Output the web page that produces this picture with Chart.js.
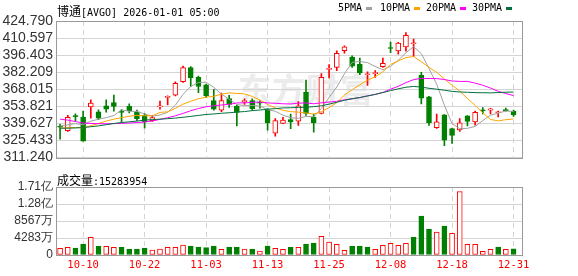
<!DOCTYPE html>
<html>
<head>
<meta charset="utf-8">
<script src="https://cdn.jsdelivr.net/npm/chart.js@4.4.1/dist/chart.umd.min.js"></script>
<style>
  html, body { margin: 0; padding: 0; background: #fff; }
  #wrap { position: relative; width: 578px; height: 276px; overflow: hidden; }
  canvas { position: absolute; left: 0; }
  #kline { top: 0; }
  #vol { top: 160px; }
  .txt { position: absolute; white-space: nowrap; font: 10px 'DejaVu Sans Mono', monospace; line-height: 12px; color: #000; }
  .cjk { font: 12px 'Noto Sans CJK SC'; }
  .sq { position: absolute; width: 6px; height: 3px; }
  #watermark { position: absolute; left: 238px; top: 68px; font: bold 33px 'Noto Sans CJK SC'; line-height: 40px; color: #ebebeb; letter-spacing: 1px; }
</style>
</head>
<body>
<div id="wrap">
  <div id="watermark">东方财富</div>
  <canvas id="kline" width="578" height="170"></canvas>
  <canvas id="vol" width="578" height="116"></canvas>
  <div class="txt" style="left:57px;top:2px;"><span class="cjk">博通</span>[AVGO] 2026-01-01 05:00</div>
  <div class="txt" style="left:338px;top:2px;">5PMA</div>
  <div class="sq" style="left:366px;top:7px;background:#a0a0a0;"></div>
  <div class="txt" style="left:380px;top:2px;">10PMA</div>
  <div class="sq" style="left:414px;top:7px;background:#ffa500;"></div>
  <div class="txt" style="left:426px;top:2px;">20PMA</div>
  <div class="sq" style="left:460px;top:7px;background:#ff00ff;"></div>
  <div class="txt" style="left:472px;top:2px;">30PMA</div>
  <div class="sq" style="left:506px;top:7px;background:#00703c;"></div>
  <div class="txt" style="left:57px;top:171px;"><span class="cjk">成交量</span>:15283954</div>
</div>
<script>
// trading days shown, MM-DD
const dates = [
  '10-07', '10-08', '10-09', '10-10', '10-13', '10-14', '10-15', '10-16', '10-17', '10-20',
  '10-21', '10-22', '10-23', '10-24', '10-27', '10-28', '10-29', '10-30', '10-31', '11-03',
  '11-04', '11-05', '11-06', '11-07', '11-10', '11-11', '11-12', '11-13', '11-14', '11-17',
  '11-18', '11-19', '11-20', '11-21', '11-24', '11-25', '11-26', '11-28', '12-01', '12-02',
  '12-03', '12-04', '12-05', '12-08', '12-09', '12-10', '12-11', '12-12', '12-15', '12-16',
  '12-17', '12-18', '12-19', '12-22', '12-23', '12-24', '12-26', '12-29', '12-30', '12-31'
];
const dateTicks = [3, 11, 19, 27, 35, 43, 51, 59];

const opens = [
  337.3, 333.7, 346.0, 344.9, 353.4, 349.3, 354.2, 357.0, 349.3, 353.8,
  349.3, 346.3, 342.0, 353.4, 361.3, 363.05, 374.3, 386.15, 377.9, 371.7,
  358.55, 350.7, 360.4, 354.06, 357.8, 358.55, 357.2, 350.9, 331.5, 339.6,
  342.8, 341.6, 365.65, 344.75, 347.9, 384.6, 386.15, 400.1, 394.8, 388.75,
  380.1, 381.0, 386.9, 402.7, 399.95, 403.3, 405.9, 379.6, 361.7, 336.2,
  346.7, 335.45, 334.35, 345.9, 340.95, 350.4, 350.7, 348.5, 350.7, 349.9
];
const highs = [
  338.8, 346.3, 347.7, 349.9, 359.3, 350.9, 359.3, 363.3, 351.1, 355.95,
  350.7, 347.9, 346.3, 358.2, 362.5, 374.3, 387.3, 386.9, 379.1, 372.35,
  368.0, 364.9, 362.9, 355.2, 360.1, 360.1, 358.55, 352.0, 343.6, 344.8,
  347.5, 357.8, 375.7, 347.5, 381.0, 388.5, 399.95, 404.05, 395.85, 394.0,
  382.6, 383.55, 394.0, 407.2, 407.05, 415.1, 409.8, 382.2, 362.1, 347.5,
  347.1, 335.7, 343.6, 346.2, 349.9, 352.8, 352.25, 349.9, 352.5, 350.7
];
const lows = [
  326.5, 332.9, 341.5, 324.9, 344.1, 342.8, 349.1, 349.9, 340.6, 348.3,
  342.0, 335.7, 341.4, 351.5, 355.0, 362.5, 373.8, 370.4, 365.3, 361.1,
  350.7, 349.5, 353.0, 337.6, 355.4, 350.7, 352.3, 334.1, 329.0, 339.4,
  335.3, 338.05, 346.3, 332.3, 347.5, 377.5, 383.55, 397.98, 386.15, 380.2,
  371.2, 377.9, 386.15, 398.4, 397.2, 399.8, 395.4, 355.95, 338.05, 335.45,
  321.1, 323.06, 332.9, 337.5, 338.3, 347.5, 347.5, 345.1, 349.9, 345.4
];
const closes = [
  336.6, 344.75, 345.3, 325.0, 356.6, 344.1, 351.5, 353.8, 348.9, 350.3,
  343.6, 340.8, 344.6, 353.8, 361.7, 373.0, 386.15, 377.5, 370.4, 362.5,
  351.5, 358.55, 355.4, 348.85, 358.2, 351.85, 356.4, 340.2, 342.0, 342.4,
  340.8, 354.2, 347.9, 340.2, 378.0, 385.4, 397.97, 403.3, 387.3, 381.7,
  380.9, 381.7, 389.5, 401.9, 406.4, 412.96, 406.4, 360.7, 340.2, 340.95,
  325.7, 329.6, 340.2, 341.4, 348.85, 350.1, 351.85, 348.85, 350.3, 346.7
];

const ma5 = [
  337.5, 338.5, 339.5, 338.5, 341.57, 343.15, 344.5, 346.2, 350.98, 349.72,
  349.62, 347.48, 345.64, 346.62, 348.9, 354.78, 363.85, 370.43, 373.75, 373.91,
  369.61, 364.09, 359.67, 355.36, 354.5, 354.57, 354.14, 351.1, 349.73, 346.57,
  344.36, 343.92, 345.46, 345.1, 352.22, 361.14, 369.89, 380.97, 390.39, 391.13,
  390.23, 386.98, 384.22, 387.14, 392.08, 398.49, 403.43, 397.67, 385.33, 372.24,
  354.79, 339.43, 335.33, 335.57, 337.15, 342.03, 346.48, 348.21, 349.99, 349.56
];
const ma10 = [
  335.7, 336.1, 336.2, 336.1, 337.7, 339.6, 341.6, 343.2, 344.4, 345.65,
  346.39, 345.99, 345.92, 348.8, 349.31, 352.2, 355.67, 358.04, 360.19, 361.41,
  362.2, 363.97, 365.05, 364.56, 364.2, 362.09, 359.12, 355.39, 352.55, 350.54,
  349.47, 349.03, 348.28, 347.42, 349.4, 352.75, 356.91, 363.22, 367.75, 371.68,
  375.69, 378.44, 382.6, 388.77, 391.61, 394.36, 395.21, 390.95, 386.24, 382.16,
  376.64, 371.43, 366.5, 360.45, 354.7, 348.41, 342.96, 341.77, 342.78, 343.36
];
const ma20 = [
  343.2, 342.4, 341.2, 340.0, 339.6, 339.4, 339.4, 339.5, 339.7, 340.0,
  340.4, 340.8, 341.7, 343.0, 344.4, 346.0, 348.0, 350.2, 352.0, 353.53,
  354.29, 354.98, 355.49, 356.68, 356.76, 357.15, 357.39, 356.71, 356.37, 355.97,
  355.83, 356.5, 356.67, 355.99, 356.8, 357.42, 358.01, 359.3, 360.15, 361.11,
  362.58, 363.73, 365.44, 368.09, 370.5, 373.56, 376.06, 377.08, 376.99, 376.92,
  376.16, 374.93, 374.55, 374.61, 373.15, 371.39, 369.08, 366.36, 364.51, 362.76
];
const ma30 = [
  335.68, 335.68, 335.9, 336.2, 336.9, 337.6, 338.6, 339.6, 340.4, 341.0,
  341.6, 342.4, 342.8, 343.2, 343.6, 344.1, 344.75, 345.5, 346.3, 347.1,
  347.5, 348.1, 348.5, 349.1, 349.5, 350.3, 350.8, 351.5, 351.9, 352.53,
  352.68, 353.0, 353.08, 353.59, 354.3, 355.68, 357.23, 358.88, 360.16, 361.21,
  362.45, 363.81, 365.31, 366.91, 368.4, 369.73, 370.41, 369.85, 368.84, 368.12,
  367.26, 366.3, 365.79, 365.54, 365.23, 365.17, 365.02, 365.31, 365.59, 365.73
];

const volumes = [
  16700000, 19200000, 17600000, 27600000, 44300000, 22600000, 21700000, 19200000, 19200000, 15100000,
  15100000, 17600000, 12500000, 15100000, 19200000, 19200000, 25100000, 22600000, 20100000, 18400000,
  22600000, 14200000, 20100000, 20100000, 15100000, 15100000, 10000000, 22600000, 16700000, 14500000,
  19200000, 19200000, 27600000, 30100000, 46800000, 32600000, 26800000, 11700000, 22600000, 22600000,
  20100000, 14200000, 24300000, 29300000, 24300000, 29300000, 45200000, 97900000, 65200000, 57700000,
  72800000, 54400000, 159800000, 26800000, 26800000, 9200000, 14200000, 20100000, 14200000, 15283954
];
// 1 = red (up) volume bar, 0 = green
const volUp = [
  1, 1, 0, 0, 1, 0, 1, 1, 0, 0,
  0, 0, 1, 1, 1, 1, 1, 0, 0, 0,
  0, 1, 0, 0, 1, 0, 1, 0, 1, 1,
  0, 1, 0, 0, 1, 1, 1, 1, 0, 0,
  0, 1, 1, 1, 1, 1, 0, 0, 0, 1,
  0, 1, 1, 1, 1, 1, 1, 0, 1, 0
];

const priceTicks = [311.24, 325.433, 339.627, 353.821, 368.015, 382.209, 396.403, 410.597, 424.79];
const priceTickLabels = ['311.240', '325.433', '339.627', '353.821', '368.015', '382.209', '396.403', '410.597', '424.790'];
const volTicks = [0, 42833885, 85667770, 128501655, 171335540];
const volTickLabels = ['0', '4283万', '8567万', '1.28亿', '1.71亿'];

const RED = '#ff0000';
const GREEN = '#008000';
const GRID = '#d4d4d4';

const framePlugin = {
  id: 'frame',
  afterDraw(chart) {
    const { ctx, chartArea: a } = chart;
    ctx.save();
    ctx.strokeStyle = '#999';
    ctx.lineWidth = 1;
    ctx.strokeRect(Math.round(a.left) - 0.5, Math.round(a.top) + 0.5,
      Math.round(a.right - a.left) + 1, Math.round(a.bottom - a.top));
    ctx.restore();
  }
};

function xScale(showLabels) {
  return {
    type: 'linear',
    min: -0.4,
    max: 60.1,
    offset: false,
    afterBuildTicks: (s) => { s.ticks = dateTicks.map((v) => ({ value: v })); },
    afterFit: (s) => { s.height = showLabels ? 21 : 0; },
    grid: { color: GRID, drawTicks: false, offset: false },
    border: { display: false, dash: [5, 4] },
    ticks: {
      display: showLabels,
      autoSkip: false,
      maxRotation: 0,
      padding: 4,
      color: RED,
      font: { family: 'DejaVu Sans Mono', size: 10.5 },
      callback: (v) => dates[v]
    }
  };
}

function yScale(min, max, ticks, labels, fontSize) {
  return {
    min,
    max,
    afterBuildTicks: (s) => { s.ticks = ticks.map((v) => ({ value: v })); },
    afterFit: (s) => { s.width = 57; },
    grid: { color: GRID, drawTicks: false },
    border: { display: false },
    ticks: {
      autoSkip: false,
      padding: 4,
      color: '#333',
      font: { family: 'Liberation Sans', size: fontSize },
      callback: (v, i) => labels[i]
    }
  };
}

const isUp = (i) => closes[i] >= opens[i];
const idx = dates.map((d, i) => i);

function maLine(values, color) {
  return {
    type: 'line',
    data: values.map((v, i) => ({ x: i, y: v })),
    borderColor: color,
    borderWidth: 1,
    pointRadius: 0,
    tension: 0,
    order: 1
  };
}

new Chart(document.getElementById('kline'), {
  type: 'bar',
  data: {
    datasets: [
      {
        // wicks
        data: idx.map((i) => ({ x: i, y: [lows[i], highs[i]] })),
        backgroundColor: idx.map((i) => (isUp(i) ? RED : GREEN)),
        borderWidth: 0,
        barThickness: 1,
        grouped: false,
        order: 3
      },
      {
        // bodies
        data: idx.map((i) => ({ x: i, y: [Math.min(opens[i], closes[i]), Math.max(opens[i], closes[i])] })),
        backgroundColor: idx.map((i) => (isUp(i) ? '#fff' : GREEN)),
        borderColor: idx.map((i) => (isUp(i) ? RED : GREEN)),
        borderWidth: 1,
        borderSkipped: false,
        barThickness: 5,
        minBarLength: 1,
        grouped: false,
        order: 2
      },
      maLine(ma30, '#00703c'),
      maLine(ma20, '#ff00ff'),
      maLine(ma10, '#ffa500'),
      maLine(ma5, '#a0a0a0')
    ]
  },
  options: {
    responsive: false,
    animation: false,
    devicePixelRatio: 1,
    layout: { padding: { top: 21, right: 56, bottom: 5, left: 0 } },
    plugins: { legend: { display: false }, tooltip: { enabled: false } },
    scales: {
      x: xScale(false),
      y: yScale(311.24, 424.79, priceTicks, priceTickLabels, 14)
    }
  },
  plugins: [framePlugin]
});

new Chart(document.getElementById('vol'), {
  type: 'bar',
  data: {
    datasets: [
      {
        data: idx.map((i) => ({ x: i, y: volumes[i] })),
        backgroundColor: idx.map((i) => (volUp[i] ? '#fff' : GREEN)),
        borderColor: idx.map((i) => (volUp[i] ? RED : GREEN)),
        borderWidth: 1,
        borderSkipped: false,
        barThickness: 5,
        grouped: false
      }
    ]
  },
  options: {
    responsive: false,
    animation: false,
    devicePixelRatio: 1,
    layout: { padding: { top: 27, right: 56, bottom: 0, left: 0 } },
    plugins: { legend: { display: false }, tooltip: { enabled: false } },
    scales: {
      x: xScale(true),
      y: yScale(0, 171335540, volTicks, volTickLabels, 12)
    }
  },
  plugins: [framePlugin]
});
</script>
</body>
</html>
